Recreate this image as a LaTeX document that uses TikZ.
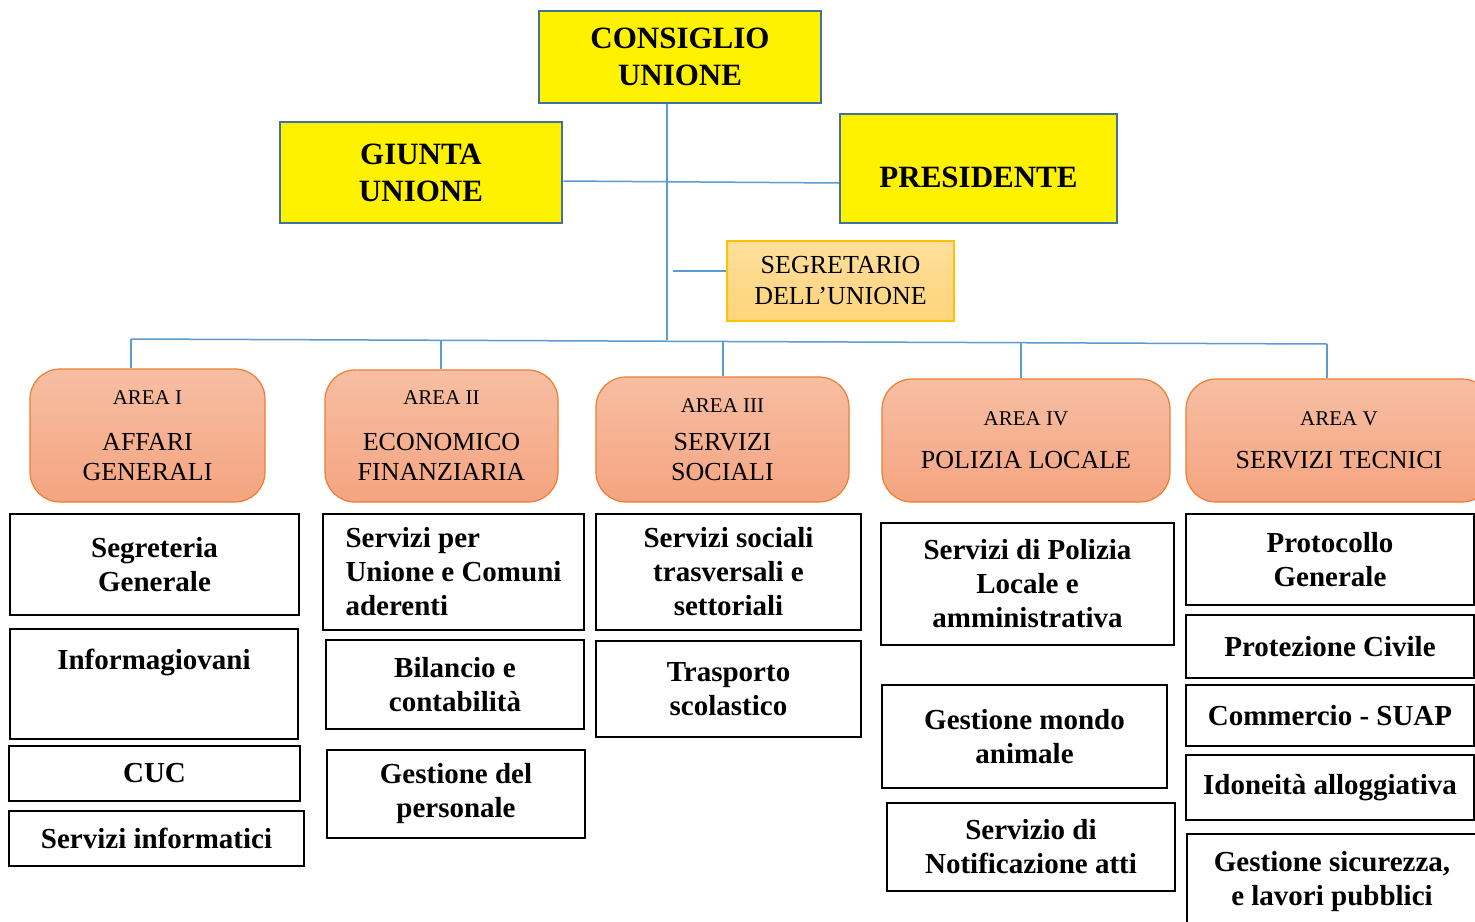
\documentclass[tikz,border=0pt]{standalone}
\usepackage{fontspec}
\setmainfont{Liberation Serif}
\definecolor{ybord}{HTML}{41719C}
\definecolor{conn}{HTML}{5B9BD5}
\definecolor{aborder}{HTML}{ED7D31}
\definecolor{atop}{HTML}{F7BEA3}
\definecolor{abot}{HTML}{F4A480}
\definecolor{stop}{HTML}{FFDF9C}
\definecolor{sbot}{HTML}{FFD47A}
\definecolor{sbord}{HTML}{FFC000}
\newcommand\bx[7]{\node[#1, minimum width={(#5-#3)*1pt}, minimum height={(#6-#4)*1pt}] (#2) at ({(#3+#5)/2},{(#4+#6)/2}) {#7};}
\tikzset{
  topbox/.style={draw=ybord, line width=2.5pt, fill=yellow, inner sep=0pt, align=center, font=\bfseries\fontsize{31}{37}\selectfont},
  segbox/.style={draw=sbord, line width=1.2pt, top color=stop, bottom color=sbot, inner sep=0pt, align=center, font=\fontsize{26}{31}\selectfont},
  areabox/.style={draw=aborder, line width=1.2pt, top color=atop, bottom color=abot, rounded corners=30pt, inner sep=0pt, align=center, font=\fontsize{26}{30}\selectfont},
  unitbox/.style={draw=black, line width=2pt, fill=white, inner sep=0pt, align=center, font=\bfseries\fontsize{29}{34}\selectfont},
  conline/.style={draw=conn, line width=1.5pt},
}
\begin{document}
\begin{tikzpicture}[x=1pt,y=-1pt]
\clip (0,0) rectangle (1475,921);
\fill[white] (0,0) rectangle (1475,921);
% top boxes
\bx{topbox}{cons}{539}{11}{821}{103}{CONSIGLIO\\UNIONE}
\bx{topbox}{giunta}{280}{122}{562}{223}{GIUNTA\\UNIONE}
\node[topbox, minimum width=277pt, text height=73pt, text depth=36pt] (pres) at (978.5,168.5) {PRESIDENTE};
\bx{segbox}{segr}{727}{241}{954}{321}{SEGRETARIO\\DELL’UNIONE}
% areas
\bx{areabox}{a1}{30}{369}{265}{502}{{\fontsize{21}{25}\selectfont AREA I}\\[16pt]AFFARI\\GENERALI}
\bx{areabox}{a2}{325}{370}{558}{502}{{\fontsize{21}{25}\selectfont AREA II}\\[16pt]ECONOMICO\\FINANZIARIA}
\bx{areabox}{a3}{596}{377}{849}{502}{{\fontsize{21}{25}\selectfont AREA III}\\[8pt]SERVIZI\\SOCIALI}
\bx{areabox}{a4}{882}{379}{1170}{502}{{\fontsize{21}{25}\selectfont AREA IV}\\[13pt]POLIZIA LOCALE}
\bx{areabox}{a5}{1186}{379}{1492}{502}{{\fontsize{21}{25}\selectfont AREA V}\\[13pt]SERVIZI TECNICI}
% column 1
\bx{unitbox}{u11}{10}{514}{299}{615}{Segreteria\\Generale}
\node[unitbox, minimum width=288pt, text height=40pt, text depth=70pt] (u12) at (154,684) {Informagiovani};
\bx{unitbox}{u13}{9}{746}{300}{801}{CUC}
\bx{unitbox}{u14}{9}{811}{304}{866}{Servizi informatici}
% column 2
\bx{unitbox, align=left}{u21}{323}{514}{584}{630}{Servizi per\\Unione e Comuni\\aderenti}
\bx{unitbox}{u22}{326}{640}{584}{729}{Bilancio e\\contabilità}
\bx{unitbox}{u23}{327}{750}{585}{838}{Gestione del\\personale}
% column 3
\bx{unitbox}{u31}{596}{514}{861}{630}{Servizi sociali\\trasversali e\\settoriali}
\bx{unitbox}{u32}{596}{641}{861}{737}{Trasporto\\scolastico}
% column 4
\bx{unitbox}{u41}{881}{523}{1174}{645}{Servizi di Polizia\\Locale e\\amministrativa}
\bx{unitbox}{u42}{882}{685}{1167}{788}{Gestione mondo\\animale}
\bx{unitbox}{u43}{887}{803}{1175}{891}{Servizio di\\Notificazione atti}
% column 5
\bx{unitbox}{u51}{1186}{514}{1474}{605}{Protocollo\\Generale}
\bx{unitbox}{u52}{1186}{615}{1474}{678}{Protezione Civile}
\bx{unitbox}{u53}{1186}{685}{1474}{746}{Commercio - SUAP}
\bx{unitbox}{u54}{1186}{755}{1474}{820}{Idoneità alloggiativa}
\bx{unitbox}{u55}{1187}{834}{1477}{930}{Gestione sicurezza,\\e lavori pubblici}
% connectors
\coordinate (busL) at (131,339);
\coordinate (busR) at (1327,344);
\coordinate (busC) at (667,340.4);
\coordinate (b2) at (441,340.3);
\coordinate (b3) at (723,341.5);
\coordinate (b4) at (1021,342.7);
\coordinate (sg) at (673,271);
\draw[conline] (busC |- cons.south) -- (busC);
\draw[conline] (busL) -- (busR);
\draw[conline] ([yshift=-8.5pt]giunta.east) -- ([yshift=-14.5pt]pres.west);
\draw[conline] (sg) -- ([yshift=10pt]segr.west);
\draw[conline] (busL) -- (busL |- a1.north);
\draw[conline] (b2) -- (b2 |- a2.north);
\draw[conline] (b3) -- (b3 |- a3.north);
\draw[conline] (b4) -- (b4 |- a4.north);
\draw[conline] (busR) -- (busR |- a5.north);
\end{tikzpicture}
\end{document}
